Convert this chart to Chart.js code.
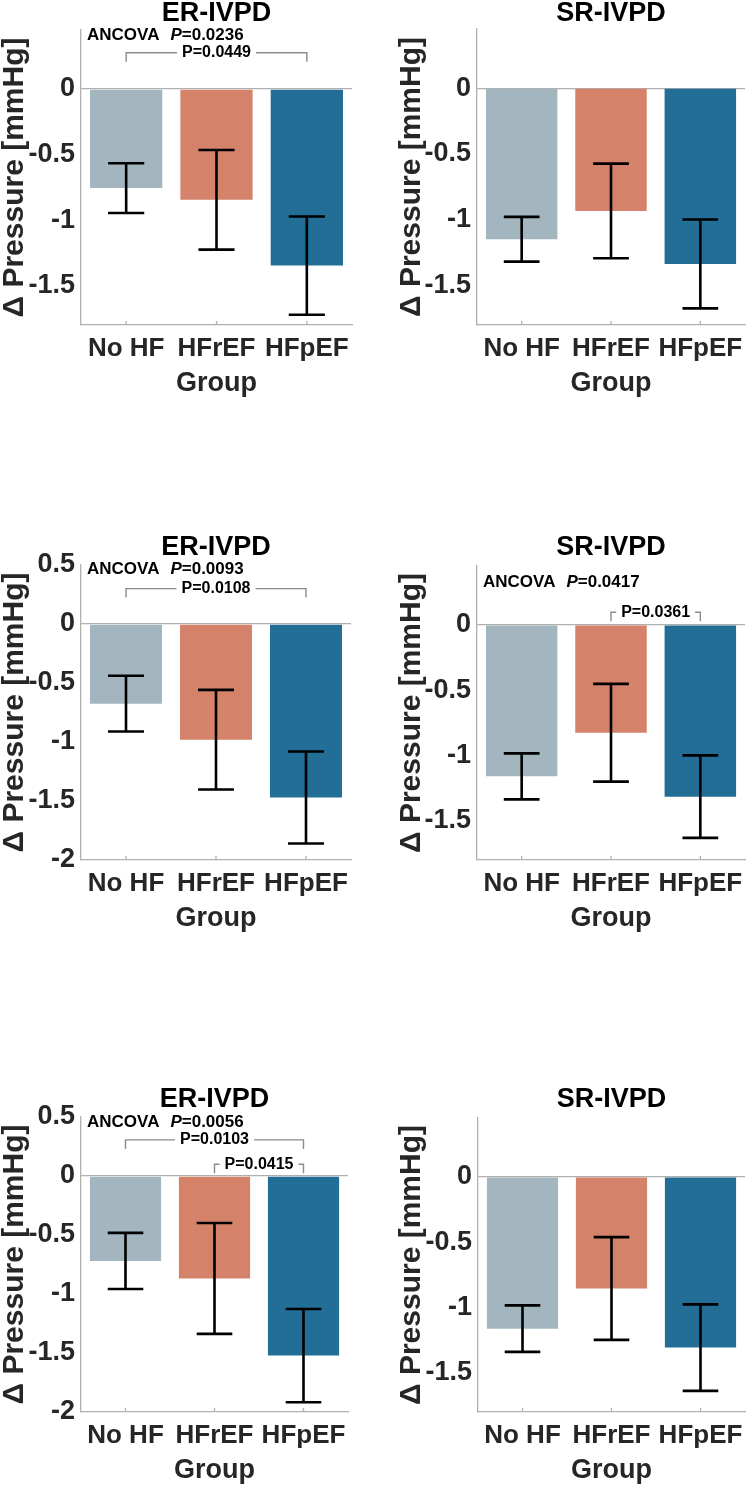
<!DOCTYPE html>
<html>
<head>
<meta charset="utf-8">
<script src="https://cdn.jsdelivr.net/npm/chart.js@4"></script>
<style>
  html, body { margin: 0; padding: 0; background: #fff; overflow: hidden; }
  body { width: 746px; height: 1486px; position: relative; }
  canvas { position: absolute; }
</style>
</head>
<body>
<script>
'use strict';

const groups = ['No HF', 'HFrEF', 'HFpEF'];
const groupColors = ['#a3b6bf', '#d4826a', '#226e96'];
const yTicks = [0.5, 0, -0.5, -1, -1.5, -2];

// mean change in pressure and error bar half-length, one pair per panel
const er1Mean = [-0.756, -0.845, -1.347];
const er1Err = [0.19, 0.38, 0.375];
const sr1Mean = [-1.148, -0.933, -1.336];
const sr1Err = [0.17, 0.36, 0.338];
const er2Mean = [-0.675, -0.98, -1.47];
const er2Err = [0.236, 0.422, 0.39];
const sr2Mean = [-1.16, -0.826, -1.315];
const sr2Err = [0.176, 0.374, 0.316];
const er3Mean = [-0.72, -0.868, -1.522];
const er3Err = [0.238, 0.47, 0.395];
const sr3Mean = [-1.162, -0.855, -1.307];
const sr3Err = [0.178, 0.393, 0.331];

const FONT = "'Liberation Sans', Arial, Helvetica, sans-serif";
const textGray = '#262626';
const axisGray = '#b0b0b0';
const bracketGray = '#8c8c8c';

Chart.defaults.font.family = FONT;

// area = [left, top, right, bottom] of the plot box on the page
const panels = [
  {
    title: 'ER-IVPD', mean: er1Mean, err: er1Err, x: 0, w: 373, titleY: 14,
    area: [81, 30, 352, 325], yMin: -1.8, yMax: 0.45,
    ancova: { p: '0.0236', y: 0.41 },
    brackets: [{ from: 0, to: 2, y: 0.277, label: 'P=0.0449' }],
  },
  {
    title: 'SR-IVPD', mean: sr1Mean, err: sr1Err, x: 397, w: 349, titleY: 14,
    area: [477, 29, 745, 325], yMin: -1.8, yMax: 0.45,
    ancova: null, brackets: [],
  },
  {
    title: 'ER-IVPD', mean: er2Mean, err: er2Err, x: 0, w: 373, titleY: 548,
    area: [81, 565, 351, 860], yMin: -2, yMax: 0.5,
    ancova: { p: '0.0093', y: 0.46 },
    brackets: [{ from: 0, to: 2, y: 0.3, label: 'P=0.0108' }],
  },
  {
    title: 'SR-IVPD', mean: sr2Mean, err: sr2Err, x: 397, w: 349, titleY: 548,
    area: [477, 566, 745, 860], yMin: -1.8, yMax: 0.45,
    ancova: { p: '0.0417', y: 0.322 },
    brackets: [{ from: 1, to: 2, y: 0.096, label: 'P=0.0361' }],
  },
  {
    title: 'ER-IVPD', mean: er3Mean, err: er3Err, x: 0, w: 373, titleY: 1100,
    area: [81, 1117, 348, 1412], yMin: -2, yMax: 0.5,
    ancova: { p: '0.0056', y: 0.458 },
    brackets: [
      { from: 0, to: 2, y: 0.306, label: 'P=0.0103' },
      { from: 1, to: 2, y: 0.099, label: 'P=0.0415' },
    ],
  },
  {
    title: 'SR-IVPD', mean: sr3Mean, err: sr3Err, x: 397, w: 349, titleY: 1100,
    area: [478, 1118, 745, 1412], yMin: -1.8, yMax: 0.45,
    ancova: null, brackets: [],
  },
];

// Plugins
const errorBars = {
  id: 'errorBars',
  afterDatasetsDraw(chart) {
    const { ctx, scales: { x, y } } = chart;
    const ds = chart.data.datasets[0];
    const half = (x.width / groups.length) * 0.2;
    ctx.save();
    ctx.strokeStyle = '#000';
    ctx.lineWidth = 2.6;
    ds.data.forEach((m, i) => {
      const cx = x.getPixelForValue(i);
      const top = y.getPixelForValue(m + ds.errors[i]);
      const bot = y.getPixelForValue(m - ds.errors[i]);
      ctx.beginPath();
      ctx.moveTo(cx, top);
      ctx.lineTo(cx, bot);
      ctx.moveTo(cx - half, top);
      ctx.lineTo(cx + half, top);
      ctx.moveTo(cx - half, bot);
      ctx.lineTo(cx + half, bot);
      ctx.stroke();
    });
    ctx.restore();
  },
};

const categoryTicks = {
  id: 'categoryTicks',
  afterDraw(chart) {
    const { ctx, chartArea, scales: { x } } = chart;
    ctx.save();
    ctx.strokeStyle = axisGray;
    ctx.lineWidth = 1.3;
    groups.forEach((g, i) => {
      const cx = x.getPixelForValue(i);
      ctx.beginPath();
      ctx.moveTo(cx, chartArea.bottom);
      ctx.lineTo(cx, chartArea.bottom - 4);
      ctx.stroke();
    });
    ctx.restore();
  },
};

const makeNotes = function (p) {
  return {
    id: 'notes',
    afterDraw(chart) {
      const { ctx, chartArea, scales: { x, y } } = chart;
      ctx.save();
      ctx.fillStyle = '#000';
      ctx.textBaseline = 'middle';
      ctx.textAlign = 'left';
      if (p.ancova) {
        let tx = chartArea.left + 6;
        const ty = y.getPixelForValue(p.ancova.y);
        ctx.font = `bold 17px ${FONT}`;
        ctx.fillText('ANCOVA', tx, ty);
        tx += ctx.measureText('ANCOVA').width + 11;
        ctx.font = `italic bold 17px ${FONT}`;
        ctx.fillText('P', tx, ty);
        tx += ctx.measureText('P').width;
        ctx.font = `bold 17px ${FONT}`;
        ctx.fillText('=' + p.ancova.p, tx, ty);
      }
      p.brackets.forEach(b => {
        const x0 = x.getPixelForValue(b.from);
        const x1 = x.getPixelForValue(b.to);
        const by = y.getPixelForValue(b.y);
        const mid = (x0 + x1) / 2;
        ctx.font = `bold 16px ${FONT}`;
        const w = ctx.measureText(b.label).width;
        ctx.strokeStyle = bracketGray;
        ctx.lineWidth = 1.4;
        ctx.beginPath();
        ctx.moveTo(x0, by + 9);
        ctx.lineTo(x0, by);
        ctx.lineTo(mid - w / 2 - 5, by);
        ctx.moveTo(mid + w / 2 + 5, by);
        ctx.lineTo(x1, by);
        ctx.lineTo(x1, by + 9);
        ctx.stroke();
        ctx.textAlign = 'center';
        ctx.fillText(b.label, mid, by);
        ctx.textAlign = 'left';
      });
      ctx.restore();
    },
  };
};

// Chart generating
const renderPanel = function (p) {
  const [l, t, r, b] = p.area;
  const top = p.titleY - 14;
  const height = b + 72 - top;
  const canvas = document.createElement('canvas');
  canvas.width = p.w;
  canvas.height = height;
  canvas.style.left = p.x + 'px';
  canvas.style.top = top + 'px';
  canvas.style.width = p.w + 'px';
  canvas.style.height = height + 'px';
  document.body.appendChild(canvas);

  const titleSize = 27;
  const tickFont = { size: 26, weight: 'bold', lineHeight: 1 };

  new Chart(canvas, {
    type: 'bar',
    data: {
      labels: groups,
      datasets: [
        {
          data: p.mean,
          errors: p.err,
          backgroundColor: groupColors,
          borderWidth: 0,
          barPercentage: 0.8,
          categoryPercentage: 1,
        },
      ],
    },
    options: {
      responsive: false,
      animation: false,
      devicePixelRatio: 1,
      layout: { padding: { left: 0, top: 0, right: p.x + p.w - r, bottom: 0 } },
      plugins: {
        legend: { display: false },
        tooltip: { enabled: false },
        title: {
          display: true,
          text: p.title,
          fullSize: false,
          color: '#000',
          font: { size: titleSize, weight: 'bold', lineHeight: 1 },
          padding: {
            top: p.titleY - top - titleSize / 2,
            bottom: t - p.titleY - titleSize / 2,
          },
        },
      },
      scales: {
        x: {
          grid: { display: false, drawTicks: false },
          border: { display: true, color: axisGray, width: 1.3 },
          ticks: { color: textGray, font: tickFont, padding: 11, maxRotation: 0 },
          title: {
            display: true,
            text: 'Group',
            color: textGray,
            font: { size: 27, weight: 'bold', lineHeight: 1 },
            padding: 0,
          },
          afterFit: s => {
            s.height = top + height - b;
            s.paddingLeft = 0;
            s.paddingRight = 0;
          },
        },
        y: {
          min: p.yMin,
          max: p.yMax,
          afterBuildTicks: s => {
            s.ticks = yTicks
              .filter(v => v >= s.min && v <= s.max)
              .sort((a, c) => a - c)
              .map(v => ({ value: v }));
          },
          grid: {
            drawTicks: false,
            lineWidth: 1.3,
            color: c => (c.tick && c.tick.value === 0 ? axisGray : 'rgba(0,0,0,0)'),
          },
          border: { display: true, color: axisGray, width: 1.3 },
          ticks: {
            color: textGray,
            font: { size: 27, weight: 'bold', lineHeight: 1 },
            padding: 6,
            callback: v => String(v),
          },
          title: {
            display: true,
            text: 'Δ Pressure [mmHg]',
            color: textGray,
            font: { size: 30, weight: 'bold', lineHeight: 1 },
            padding: 0,
          },
          afterFit: s => {
            s.width = l - p.x;
            s.paddingTop = 0;
            s.paddingBottom = 0;
          },
        },
      },
    },
    plugins: [errorBars, categoryTicks, makeNotes(p)],
  });
};

panels.forEach(renderPanel);
</script>
</body>
</html>
